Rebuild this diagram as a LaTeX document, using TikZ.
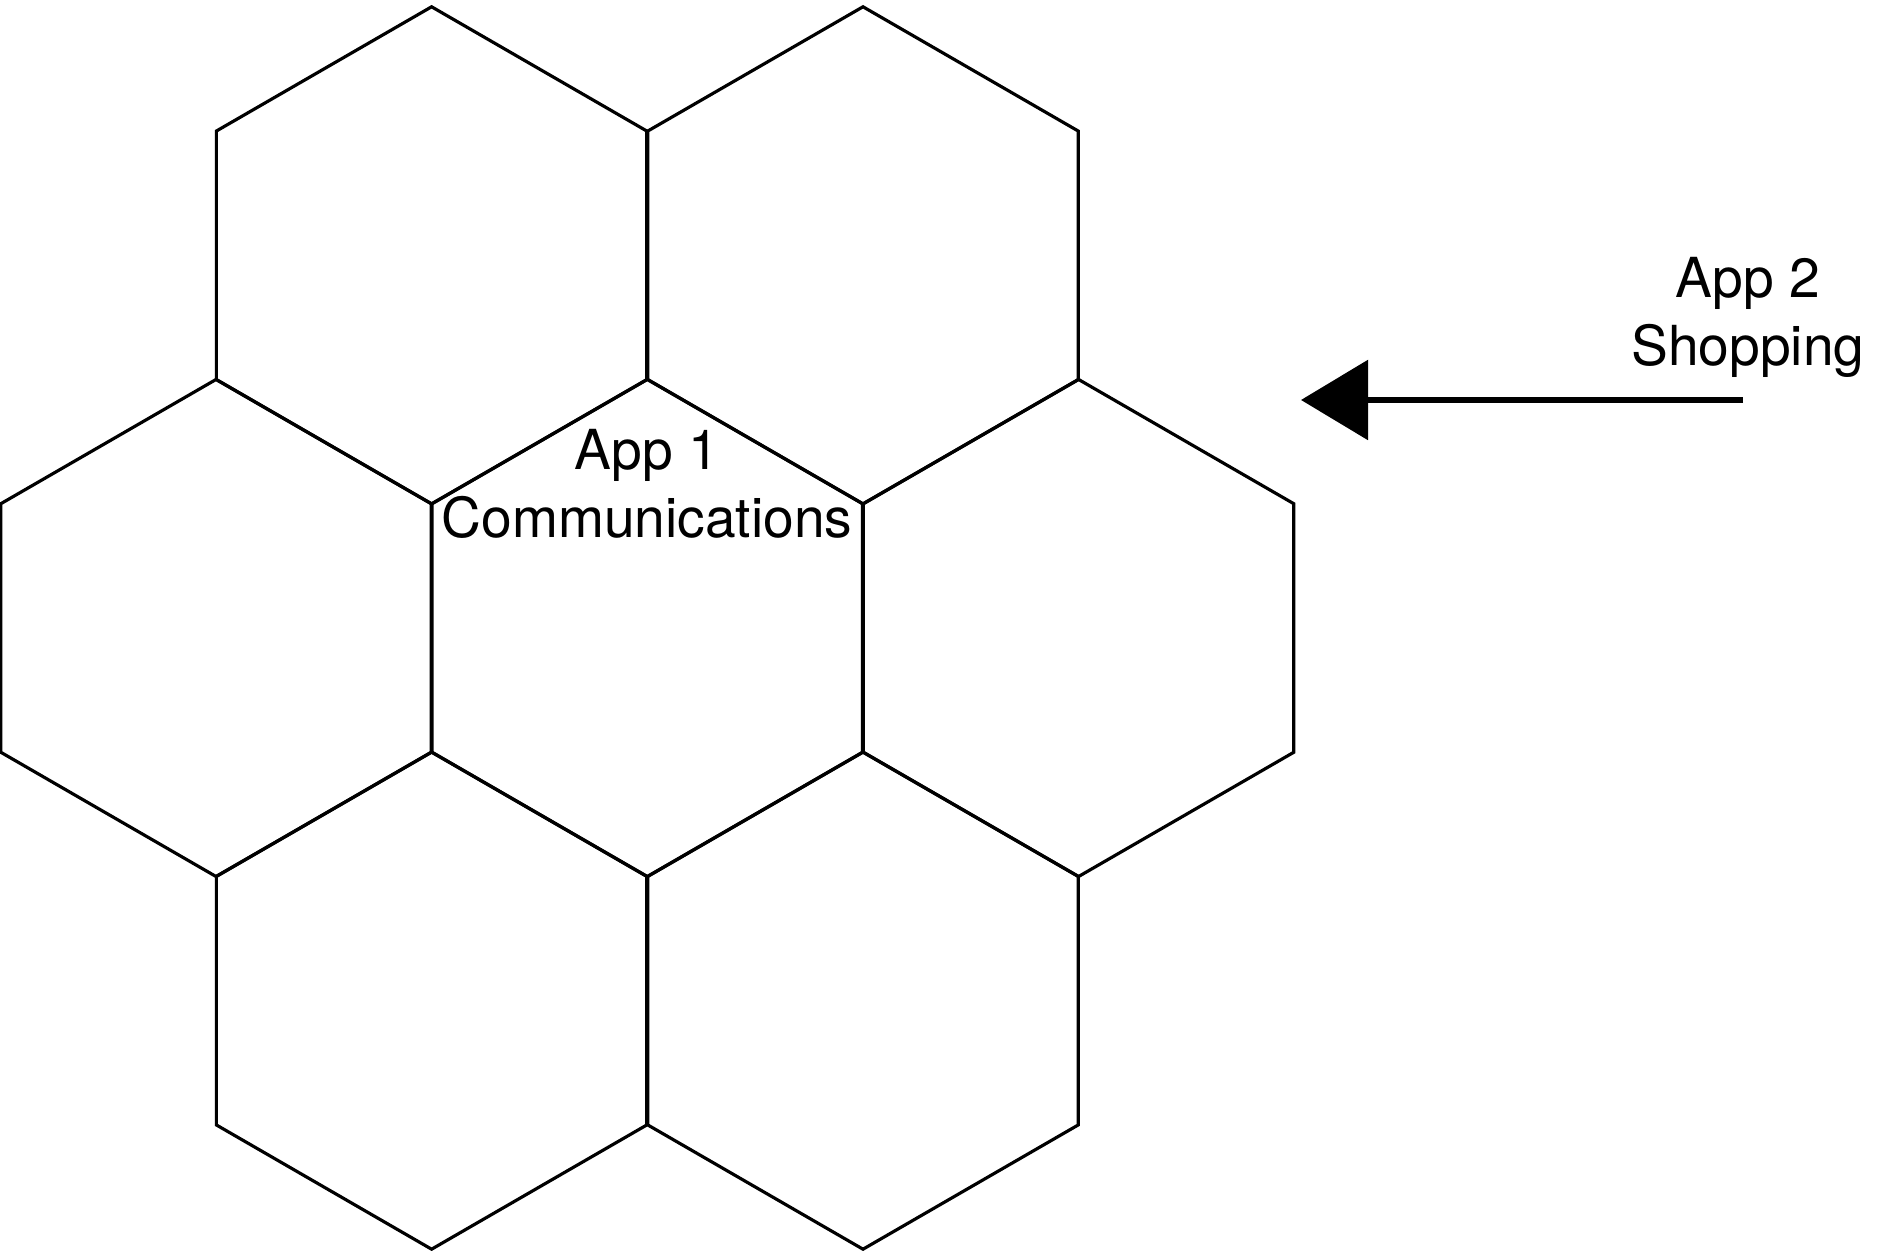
\documentclass[tikz,border=0pt]{standalone}
\usepackage{fontspec}
\setmainfont{TeX Gyre Heros}
\usetikzlibrary{positioning,shapes.geometric,arrows.meta}

\begin{document}
\begin{tikzpicture}[every node/.style = { align = center, font = \fontsize{15.7}{19.3}\selectfont },
    hexcell/.style = { draw, shape = regular polygon, regular polygon sides = 6,
      shape border rotate = 30, minimum size = 4.97cm, inner sep = 0pt, outer sep = 0pt,
      line width = 0.9pt }]
    \useasboundingbox (0,0) rectangle (18.77,12.5);

    % honeycomb: one cell in the middle, six around it
    \node [hexcell] (hexc) at (6.473,6.22) {};
    \foreach \name/\x/\y in {hexl/2.16/6.22, hexr/10.786/6.22,
                             hextl/4.316/9.947, hextr/8.63/9.947,
                             hexbl/4.316/2.493, hexbr/8.63/2.493}
      \node [hexcell] (\name) at (\x,\y) {};

    \node (app1) at (6.47,7.66) { App 1 \\ Communications };
    \node (app2) at (17.48,9.33) { App 2 \\ Shopping };

    \coordinate (tail) at (17.43,8.5);
    \coordinate (tip) at (13.01,8.5);
    \draw [line width = 1.7pt, -{Triangle[length=0.67cm, width=0.79cm]}] (tail) -- (tip);
\end{tikzpicture}
\end{document}
